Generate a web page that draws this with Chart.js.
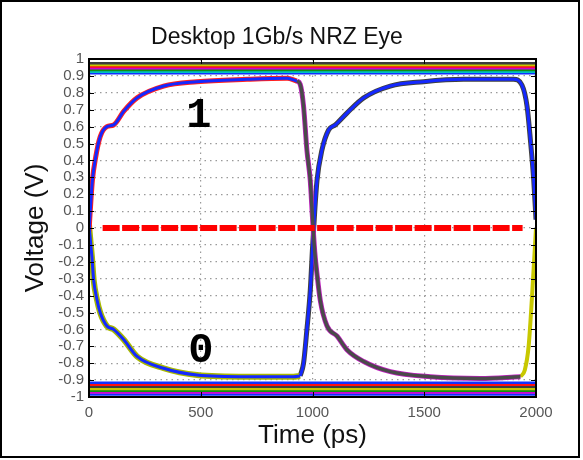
<!DOCTYPE html>
<html>
<head>
<meta charset="utf-8">
<script src="https://cdn.jsdelivr.net/npm/chart.js@4.4.0/dist/chart.umd.min.js"></script>
<style>
  body { margin: 0; background: #fff; }
  canvas { display: block; }
</style>
</head>
<body>
<canvas id="eye" width="583" height="460"></canvas>
<script>
// eye traces (time in ps, voltage in V)
const bitOneRiseTime = [0, 8, 15, 30, 50, 80, 110, 155, 215, 334, 483, 707, 886, 930];
const bitOneRiseVolt = [-0.02, 0.15, 0.28, 0.42, 0.54, 0.6, 0.61, 0.69, 0.77, 0.84, 0.866, 0.88, 0.886, 0.87];

const fallEdgeTime = [930, 945, 960, 975, 990, 1000, 1010, 1020, 1035, 1065, 1110, 1154, 1229, 1348, 1527, 1751, 1930];
const fallEdgeVolt = [0.87, 0.85, 0.72, 0.46, 0.28, 0.06, -0.14, -0.27, -0.43, -0.58, -0.64, -0.72, -0.79, -0.85, -0.88, -0.89, -0.88];

const bitZeroFallTime = [0, 8, 13, 21, 35, 50, 80, 110, 155, 215, 334, 483, 707, 915, 945];
const bitZeroFallVolt = [0.02, -0.1, -0.17, -0.31, -0.42, -0.5, -0.58, -0.6, -0.66, -0.76, -0.83, -0.87, -0.88, -0.88, -0.875];

const riseEdgeTime = [945, 960, 975, 990, 1000, 1010, 1020, 1042, 1072, 1102, 1154, 1229, 1348, 1497, 1676, 1900, 1937, 1960, 1975, 1990, 2000];
const riseEdgeVolt = [-0.875, -0.8, -0.6, -0.37, -0.12, 0.1, 0.28, 0.46, 0.58, 0.61, 0.68, 0.77, 0.84, 0.866, 0.88, 0.88, 0.846, 0.72, 0.52, 0.28, 0.05];

const lateRiseTime = [1930, 1950, 1967, 1982, 2000];
const lateRiseVolt = [-0.88, -0.84, -0.7, -0.41, 0.0];

// settled levels (flat bands at top and bottom)
const topBandLevels = [0.975, 0.965, 0.955, 0.945, 0.935, 0.925, 0.915];
const topBandColors = ["#3c3c3c", "#c8c800", "#ff1010", "#d000d0", "#109010", "#00c0c0", "#1030ff"];
const bottomBandLevels = [-0.915, -0.928, -0.94, -0.952, -0.963, -0.974, -0.985];
const bottomBandColors = ["#1030ff", "#ff1010", "#3c3c3c", "#c8c800", "#109010", "#d000d0", "#1030ff"];

// decision threshold
const thresholdTime = [61, 1940];
const thresholdVolt = [0, 0];

const xTickLabels = ["0", "500", "1000", "1500", "2000"];
const yTickLabels = ["-1", "-0.9", "-0.8", "-0.7", "-0.6", "-0.5", "-0.4", "-0.3", "-0.2", "-0.1", "0",
                     "0.1", "0.2", "0.3", "0.4", "0.5", "0.6", "0.7", "0.8", "0.9", "1"];

const markText = ["1", "0"];
const markTime = [492, 500];
const markVolt = [0.66, -0.73];

function toPoints(times, volts) {
    return times.map((t, i) => ({ x: t, y: volts[i] }));
}

function trace(times, volts, color, width, order) {
    return {
        data: toPoints(times, volts),
        borderColor: color,
        borderWidth: width,
        pointRadius: 0,
        fill: false,
        cubicInterpolationMode: "monotone",
        order: order,
    };
}

const datasets = [];
topBandLevels.forEach((v, i) => {
    datasets.push(trace([0, 2000], [v, v], topBandColors[i], 2.5, 20));
});
bottomBandLevels.forEach((v, i) => {
    datasets.push(trace([0, 2000], [v, v], bottomBandColors[i], 2.5, 20));
});
// coloured fringes under the main traces
datasets.push(trace(bitOneRiseTime, bitOneRiseVolt, "#ff2020", 5, 10));
datasets.push(trace(fallEdgeTime, fallEdgeVolt, "#c020c0", 5, 10));
datasets.push(trace(bitZeroFallTime, bitZeroFallVolt, "#a8b800", 6, 10));
datasets.push(trace(riseEdgeTime, riseEdgeVolt, "#404040", 5, 10));
datasets.push(trace(lateRiseTime, lateRiseVolt, "#c8c800", 4, 10));
// main traces
datasets.push(trace(bitOneRiseTime, bitOneRiseVolt, "#1428ff", 3, 5));
datasets.push(trace(fallEdgeTime, fallEdgeVolt, "#4a4a4a", 3.5, 5));
datasets.push(trace(bitZeroFallTime, bitZeroFallVolt, "#1428ff", 3, 5));
datasets.push(trace(riseEdgeTime, riseEdgeVolt, "#1428ff", 3, 5));
// red dashed threshold
datasets.push({
    data: toPoints(thresholdTime, thresholdVolt),
    borderColor: "#ff0000",
    borderWidth: 6,
    borderDash: [17, 2.5],
    borderCapStyle: "butt",
    pointRadius: 0,
    fill: false,
    order: 0,
});

const eyePlugin = {
    id: "eyeDecor",
    beforeDraw(chart) {
        const ctx = chart.ctx;
        ctx.save();
        ctx.fillStyle = "#fff";
        ctx.fillRect(0, 0, chart.width, chart.height);
        ctx.restore();
    },
    afterDatasetsDraw(chart) {
        const { ctx, chartArea: a, scales } = chart;
        ctx.save();
        // inward tick marks
        ctx.strokeStyle = "#000";
        ctx.lineWidth = 1;
        ctx.beginPath();
        yTickLabels.forEach((s) => {
            const y = Math.round(scales.y.getPixelForValue(parseFloat(s))) + 0.5;
            ctx.moveTo(a.left, y); ctx.lineTo(a.left + 5, y);
            ctx.moveTo(a.right, y); ctx.lineTo(a.right - 5, y);
        });
        xTickLabels.forEach((s) => {
            const x = Math.round(scales.x.getPixelForValue(parseFloat(s))) + 0.5;
            ctx.moveTo(x, a.bottom); ctx.lineTo(x, a.bottom - 5);
            ctx.moveTo(x, a.top); ctx.lineTo(x, a.top + 5);
        });
        ctx.stroke();
        // plot box
        ctx.lineWidth = 2;
        ctx.strokeRect(a.left, a.top, a.width, a.height);
        // "1" / "0" marks
        ctx.fillStyle = "#000";
        ctx.font = "bold 42px 'Liberation Mono'";
        ctx.textAlign = "center";
        ctx.textBaseline = "middle";
        markText.forEach((m, i) => {
            ctx.fillText(m, scales.x.getPixelForValue(markTime[i]), scales.y.getPixelForValue(markVolt[i]));
        });
        ctx.restore();
    },
    afterDraw(chart) {
        const ctx = chart.ctx;
        ctx.save();
        ctx.fillStyle = "#111";
        ctx.font = "23px 'Liberation Sans'";
        ctx.textAlign = "center";
        ctx.textBaseline = "alphabetic";
        ctx.fillText("Desktop 1Gb/s NRZ Eye", 277, 44);
        ctx.strokeStyle = "#000";
        ctx.lineWidth = 2;
        ctx.strokeRect(1, 1, 578, 456);
        ctx.restore();
    },
};

// dotted grid, hidden where it would sit on the plot box
const gridDots = (edge) => (c) => (Math.abs(Math.abs(c.tick.value) - edge) < 1e-6 || (c.tick.value === 0 && edge === 2000) ? "rgba(0,0,0,0)" : "#9a9a9a");

new Chart(document.getElementById("eye").getContext("2d"), {
    type: "line",
    data: { datasets: datasets },
    options: {
        responsive: false,
        animation: false,
        layout: { padding: { top: 59, right: 47, bottom: 0, left: 0 } },
        plugins: { legend: { display: false }, tooltip: { enabled: false } },
        scales: {
            x: {
                type: "linear",
                min: 0,
                max: 2000,
                afterFit: (s) => { s.height = 63; },
                border: { display: false, dash: [1.5, 4] },
                grid: { drawTicks: false, color: gridDots(2000), lineWidth: 1.2 },
                ticks: {
                    stepSize: 500,
                    autoSkip: false,
                    maxRotation: 0,
                    padding: 7,
                    color: "#555",
                    font: { family: "'Liberation Sans'", size: 15 },
                    callback: (v, i) => xTickLabels[i],
                },
                title: {
                    display: true,
                    text: "Time (ps)",
                    color: "#111",
                    font: { family: "'Liberation Sans'", size: 26 },
                    padding: { top: 0, bottom: 9 },
                },
            },
            y: {
                min: -1,
                max: 1,
                afterFit: (s) => { s.width = 89; },
                border: { display: false, dash: [1.5, 4] },
                grid: { drawTicks: false, color: gridDots(1), lineWidth: 1.2 },
                ticks: {
                    stepSize: 0.1,
                    autoSkip: false,
                    padding: 5,
                    color: "#555",
                    font: { family: "'Liberation Sans'", size: 15 },
                    callback: (v, i) => yTickLabels[i],
                },
                title: {
                    display: true,
                    text: "Voltage (V)",
                    color: "#111",
                    font: { family: "'Liberation Sans'", size: 26 },
                    padding: { top: 20, bottom: 0 },
                },
            },
        },
    },
    plugins: [eyePlugin],
});
</script>
</body>
</html>
